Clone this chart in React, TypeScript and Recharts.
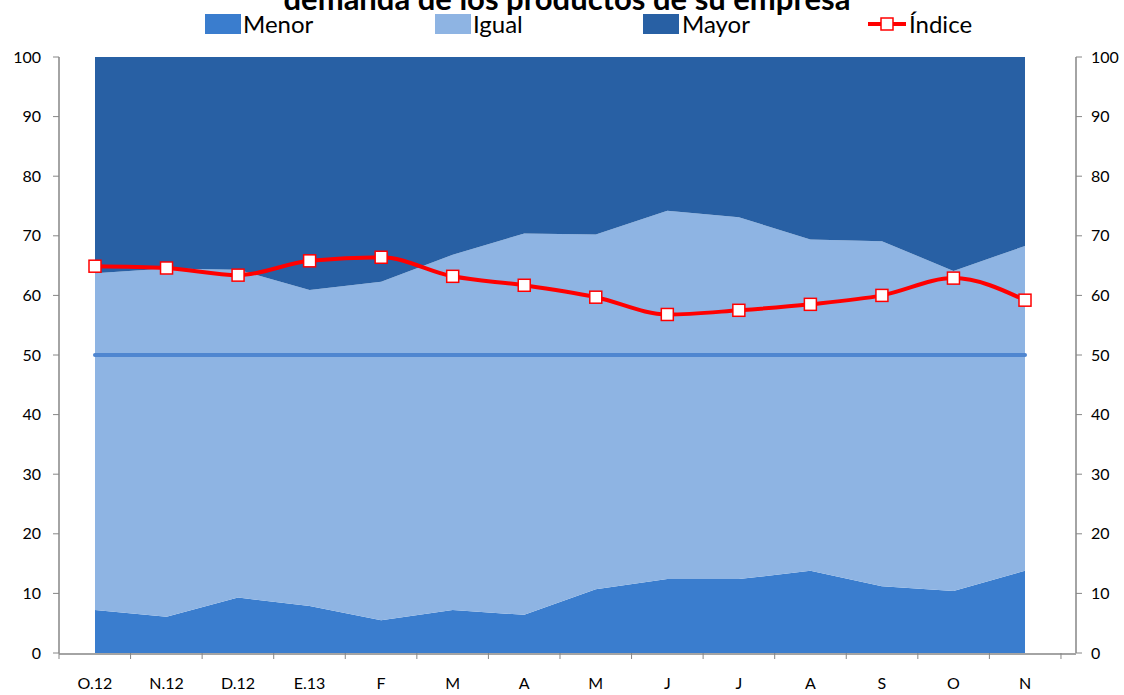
import React from 'react';
import {
  ComposedChart,
  Area,
  Line,
  XAxis,
  YAxis,
  ReferenceLine,
} from 'recharts';

const meses = ['O.12', 'N.12', 'D.12', 'E.13', 'F', 'M', 'A', 'M', 'J', 'J', 'A', 'S', 'O', 'N'];
const menor = [7.2, 6.1, 9.3, 7.9, 5.5, 7.2, 6.4, 10.7, 12.4, 12.4, 13.8, 11.2, 10.4, 13.8];
const igual = [56.5, 58.4, 55.0, 53.0, 56.8, 59.6, 64.0, 59.5, 61.8, 60.7, 55.6, 57.9, 53.7, 54.5];
const mayor = [36.3, 35.5, 35.7, 39.1, 37.7, 33.2, 29.6, 29.8, 25.8, 26.9, 30.6, 30.9, 35.9, 31.7];
const indice = [64.9, 64.6, 63.4, 65.8, 66.4, 63.2, 61.7, 59.7, 56.8, 57.5, 58.5, 60.0, 62.9, 59.2];
const yTicks = [0, 10, 20, 30, 40, 50, 60, 70, 80, 90, 100];
// category boundaries, Excel draws the x tick marks between the months
const limites = [0, 1, 2, 3, 4, 5, 6, 7, 8, 9, 10, 11, 12, 13, 14];

const data = meses.map((mes, i) => ({
  id: `${i}|${mes}`,
  menor: menor[i],
  igual: igual[i],
  mayor: mayor[i],
  indice: indice[i],
}));

const COL_MENOR = '#3a7dce';
const COL_IGUAL = '#8eb4e3';
const COL_MAYOR = '#2860a4';
const GRIS = '#868686';

function SquareDot(props: any) {
  const { cx, cy } = props;
  if (cx == null || cy == null) return null;
  return (
    <rect x={cx - 6} y={cy - 6} width={12} height={12} fill="#fff" stroke="#ff0000" strokeWidth={1.5} />
  );
}

function Leyenda() {
  const sw = { position: 'absolute' as const, top: 14, width: 36, height: 20 };
  const txt = { position: 'absolute' as const, top: 9, fontSize: 24, lineHeight: '30px', color: '#000' };
  return (
    <>
      <div style={{ ...sw, left: 205, background: COL_MENOR }} />
      <div style={{ ...txt, left: 243 }}>Menor</div>
      <div style={{ ...sw, left: 435, background: COL_IGUAL }} />
      <div style={{ ...txt, left: 473 }}>Igual</div>
      <div style={{ ...sw, left: 643, background: COL_MAYOR }} />
      <div style={{ ...txt, left: 682 }}>Mayor</div>
      <svg style={{ position: 'absolute', left: 866, top: 14 }} width={42} height={20}>
        <line x1={2} y1={10} x2={40} y2={10} stroke="#ff0000" strokeWidth={4} />
        <rect x={15} y={4} width={12} height={12} fill="#fff" stroke="#ff0000" strokeWidth={1.5} />
      </svg>
      <div style={{ ...txt, left: 909 }}>Índice</div>
    </>
  );
}

export default function App() {
  return (
    <div
      style={{
        position: 'absolute',
        left: 0,
        top: 0,
        width: 1124,
        height: 695,
        overflow: 'hidden',
        background: '#fff',
        fontFamily: 'Lato, "Open Sans", sans-serif',
      }}
    >
      <div
        style={{
          position: 'absolute',
          top: -17,
          left: 0,
          width: 1134,
          textAlign: 'center',
          fontSize: 31,
          fontWeight: 'bold',
          lineHeight: 1,
          color: '#000',
        }}
      >
        demanda de los productos de su empresa
      </div>
      <Leyenda />
      <div style={{ position: 'absolute', left: 0, top: 0 }}>
        <ComposedChart
          width={1124}
          height={695}
          data={data}
          margin={{ top: 57, right: 0, bottom: 0, left: 0 }}
        >
          <XAxis
            xAxisId="a"
            type="number"
            dataKey={() => 0}
            domain={[0, 14.21]}
            ticks={limites}
            allowDataOverflow
            height={1}
            axisLine={false}
            tickLine={{ stroke: GRIS }}
            tickSize={6}
            tickFormatter={() => ''}
          />
          <XAxis
            xAxisId="b"
            dataKey="id"
            height={41}
            padding={{ left: 36, right: 51 }}
            tickFormatter={(v: string) => v.split('|')[1]}
            tick={{ fontSize: 16, fill: '#000' }}
            axisLine={{ stroke: GRIS, strokeWidth: 1.5 }}
            tickLine={false}
            tickSize={0}
            interval={0}
            tickMargin={24}
          />
          <YAxis
            yAxisId="left"
            domain={[0, 100]}
            ticks={yTicks}
            width={59}
            tick={{ fontSize: 16, fill: '#000' }}
            axisLine={{ stroke: GRIS, strokeWidth: 1.5 }}
            tickLine={{ stroke: GRIS }}
            tickSize={6}
            tickMargin={12}
            interval={0}
          />
          <YAxis
            yAxisId="right"
            orientation="right"
            domain={[0, 100]}
            ticks={yTicks}
            width={48}
            tick={{ fontSize: 16, fill: '#000', textAnchor: 'start' }}
            axisLine={{ stroke: GRIS, strokeWidth: 1.5 }}
            tickLine={{ stroke: GRIS }}
            tickSize={6}
            tickMargin={9}
            interval={0}
          />
          <Area
            xAxisId="b"
            yAxisId="left"
            type="linear"
            dataKey="menor"
            stackId="a"
            fill={COL_MENOR}
            fillOpacity={1}
            stroke="none"
            isAnimationActive={false}
          />
          <Area
            xAxisId="b"
            yAxisId="left"
            type="linear"
            dataKey="igual"
            stackId="a"
            fill={COL_IGUAL}
            fillOpacity={1}
            stroke="none"
            isAnimationActive={false}
          />
          <Area
            xAxisId="b"
            yAxisId="left"
            type="linear"
            dataKey="mayor"
            stackId="a"
            fill={COL_MAYOR}
            fillOpacity={1}
            stroke="none"
            isAnimationActive={false}
          />
          <ReferenceLine
            xAxisId="b"
            yAxisId="left"
            segment={[
              { x: data[0].id, y: 50 },
              { x: data[data.length - 1].id, y: 50 },
            ]}
            stroke="#4f86d0"
            strokeWidth={4}
            strokeLinecap="round"
          />
          <Line
            xAxisId="b"
            yAxisId="right"
            type="monotone"
            dataKey="indice"
            stroke="#ff0000"
            strokeWidth={4}
            dot={<SquareDot />}
            activeDot={false}
            isAnimationActive={false}
          />
        </ComposedChart>
      </div>
    </div>
  );
}
